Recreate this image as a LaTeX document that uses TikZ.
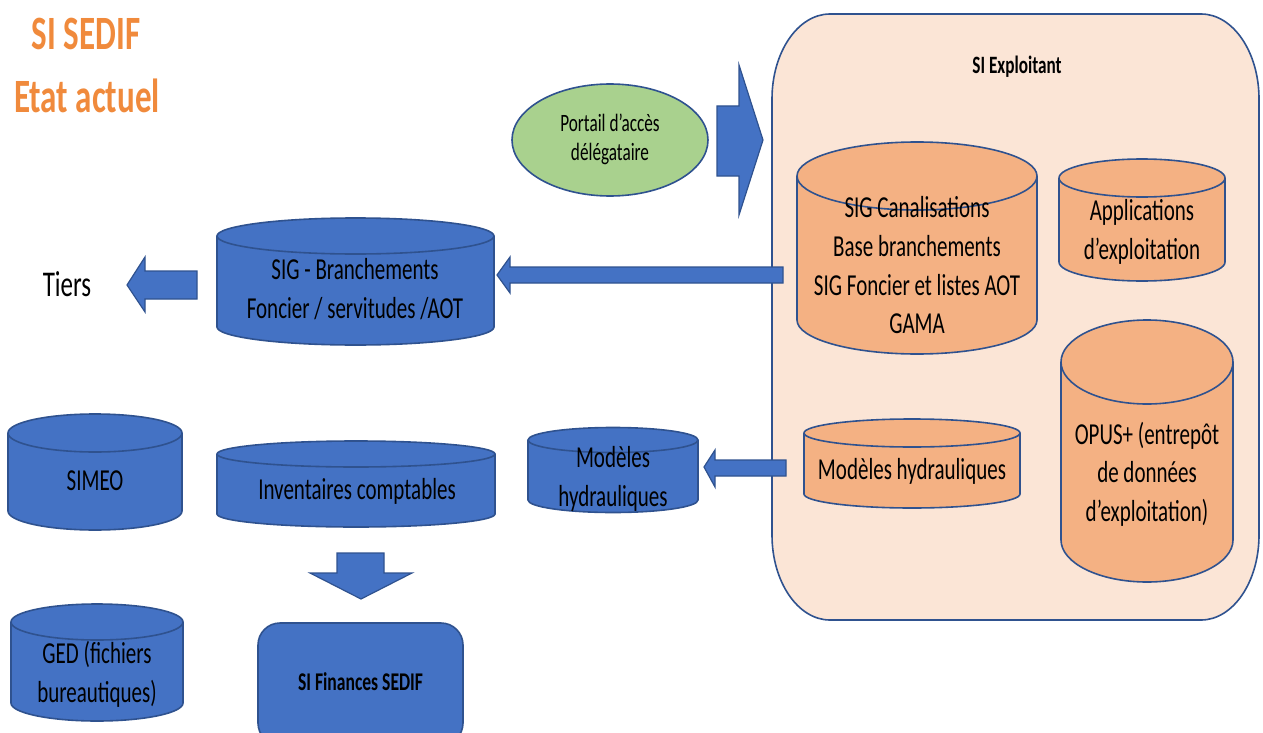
\documentclass[tikz,border=0pt]{standalone}
\usepackage{fontspec}
\setmainfont{Carlito}
\usepackage{graphicx}
\usetikzlibrary{shapes.geometric}

\definecolor{bleuF}{HTML}{4472C4}
\definecolor{bleuT}{HTML}{2F528F}
\definecolor{orangeF}{HTML}{F4B183}
\definecolor{peche}{HTML}{FBE5D6}
\definecolor{vertF}{HTML}{A9D18E}
\definecolor{titre}{HTML}{F08A3C}

% texte etire verticalement
\newcommand{\haut}[1]{\scalebox{1}[1.45]{\begin{tabular}{@{}c@{}}#1\end{tabular}}}
% cylindre : couleur, x gauche, x droite, y haut, y bas, demi-hauteur ellipse
\newcommand{\cylindre}[6]{%
  \pgfmathsetmacro{\rx}{(#3-#2)/2}%
  \filldraw[cyl,fill=#1] (#2,#4) -- (#2,#5)
    arc[start angle=180,end angle=360,x radius=\rx,y radius=#6]
    -- (#3,#4) arc[start angle=0,end angle=180,x radius=\rx,y radius=#6] -- cycle;
  \draw[cyl] (#2,#4) arc[start angle=180,end angle=360,x radius=\rx,y radius=#6];
}

\begin{document}
\begin{tikzpicture}[x=0.5pt,y=0.5pt,
    cyl/.style={draw=bleuT,line width=0.8pt},
    fleche/.style={fill=bleuF,draw=bleuT,line width=0.6pt},
    txt/.style={inner sep=0pt,font=\fontsize{10.5}{13.3}\selectfont},
    petit/.style={inner sep=0pt,font=\fontsize{8.6}{10.3}\selectfont}]

    \useasboundingbox (0,0) rectangle (1263,-733);

    % titre
    \node[inner sep=0pt,text=titre,font=\fontsize{16.5}{20}\selectfont\bfseries] (titre1) at (86,-38) {\haut{SI SEDIF}};
    \node[inner sep=0pt,text=titre,font=\fontsize{16.5}{20}\selectfont\bfseries] (titre2) at (87,-101) {\haut{Etat actuel}};

    % SI Exploitant
    \filldraw[fill=peche,draw=bleuT,line width=0.8pt] (830,-14) -- (1201,-14)
        arc[start angle=90,end angle=0,x radius=58,y radius=85] -- (1259,-535)
        arc[start angle=0,end angle=-90,x radius=58,y radius=85] -- (830,-620)
        arc[start angle=270,end angle=180,x radius=58,y radius=85] -- (772,-99)
        arc[start angle=180,end angle=90,x radius=58,y radius=85] -- cycle;
    \node[petit,font=\fontsize{8.6}{10.3}\selectfont\bfseries] (exploitant) at (1017,-68) {\haut{SI Exploitant}};

    \cylindre{orangeF}{797}{1037}{-176}{-320}{34}
    \node[txt] (sigcan) at (917,-268) {\haut{SIG Canalisations\\Base branchements\\SIG Foncier et listes AOT\\GAMA}};
    \cylindre{orangeF}{1059}{1225}{-178}{-262}{19}
    \node[txt] (appli) at (1142,-232) {\haut{Applications\\d’exploitation}};
    \cylindre{orangeF}{1061}{1233}{-362}{-540}{42}
    \node[txt] (opus) at (1147,-475) {\haut{OPUS+ (entrepôt\\de données\\d’exploitation)}};
    \cylindre{orangeF}{804}{1020}{-433}{-494}{14}
    \node[txt] (modexp) at (912,-472) {\haut{Modèles hydrauliques}};

    % portail
    \node[ellipse,fill=vertF,draw=bleuT,line width=0.8pt,minimum width=98pt,minimum height=56pt,inner sep=0pt,
        font=\fontsize{8.6}{10.3}\selectfont] (portail) at (610,-140) {\haut{Portail d’accès\\délégataire}};
    \filldraw[fleche] (717,-106) -- (739,-106) -- (739,-65) -- (763,-140) -- (739,-215) -- (739,-176) -- (717,-176) -- cycle;

    % SIG sedif
    \cylindre{bleuF}{217}{494}{-236}{-327}{18}
    \node[txt] (sigbr) at (355,-291) {\haut{SIG - Branchements\\Foncier / servitudes /AOT}};
    \filldraw[fleche] (783,-267) -- (510,-267) -- (510,-257) -- (497,-275) -- (510,-293) -- (510,-283) -- (783,-283) -- cycle;
    \node[inner sep=0pt,font=\fontsize{12.5}{15}\selectfont] (tiers) at (67,-288) {\haut{Tiers}};
    \filldraw[fleche] (197,-271) -- (145,-271) -- (145,-257) -- (127,-285) -- (145,-312) -- (145,-299) -- (197,-299) -- cycle;

    \cylindre{bleuF}{8}{182}{-433}{-511}{19}
    \node[txt] (simeo) at (95,-483) {\haut{SIMEO}};
    \cylindre{bleuF}{217}{495}{-454}{-514}{13}
    \node[txt] (inventaires) at (357,-492) {\haut{Inventaires comptables}};
    \cylindre{bleuF}{528}{698}{-440}{-500}{12.5}
    \node[txt] (modhyd) at (613,-479) {\haut{Modèles\\hydrauliques}};
    \filldraw[fleche] (786,-460) -- (715,-460) -- (715,-450) -- (704,-467) -- (715,-487) -- (715,-476) -- (786,-476) -- cycle;

    \filldraw[fleche] (337,-553) -- (384,-553) -- (384,-573) -- (412,-573) -- (361,-599) -- (310,-573) -- (337,-573) -- cycle;
    \cylindre{bleuF}{11}{183}{-622}{-703}{18}
    \node[txt] (ged) at (97,-675) {\haut{GED (fichiers\\bureautiques)}};
    \node[rectangle,rounded corners=11pt,fill=bleuF,draw=bleuT,line width=0.8pt,minimum width=102.5pt,minimum height=61pt,
        inner sep=0pt,font=\fontsize{8.8}{10.5}\selectfont\bfseries] (finances) at (360.5,-684) {\haut{SI Finances SEDIF}};
\end{tikzpicture}
\end{document}
